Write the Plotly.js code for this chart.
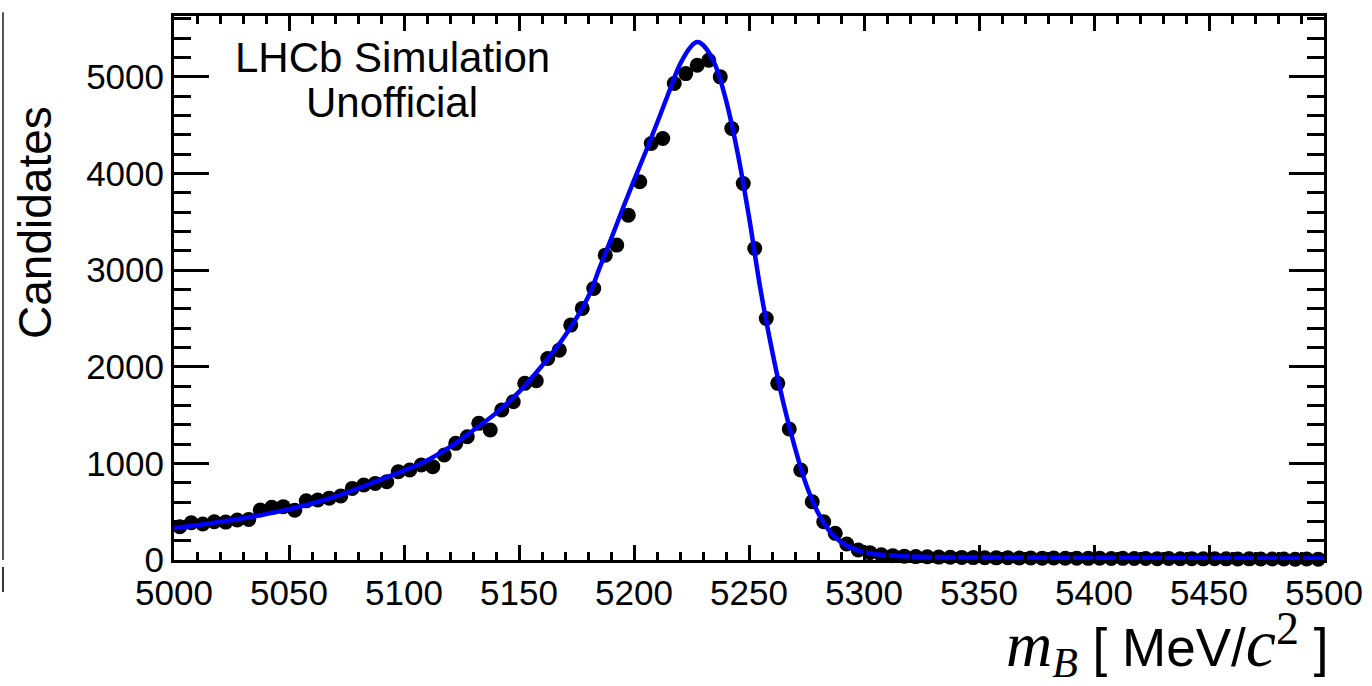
<!DOCTYPE html>
<html>
<head>
<meta charset="utf-8">
<script src="https://cdn.plot.ly/plotly-3.0.1.min.js"></script>
<style>html,body{margin:0;padding:0;background:#fff;}#chart{width:1372px;height:686px;}</style>
</head>
<body>
<div id="chart"></div>
<script>
// Bin centres (MeV/c^2), 5 MeV bins
const binCenters = [
  5002.5,5007.5,5012.5,5017.5,5022.5,5027.5,5032.5,5037.5,5042.5,5047.5,
  5052.5,5057.5,5062.5,5067.5,5072.5,5077.5,5082.5,5087.5,5092.5,5097.5,
  5102.5,5107.5,5112.5,5117.5,5122.5,5127.5,5132.5,5137.5,5142.5,5147.5,
  5152.5,5157.5,5162.5,5167.5,5172.5,5177.5,5182.5,5187.5,5192.5,5197.5,
  5202.5,5207.5,5212.5,5217.5,5222.5,5227.5,5232.5,5237.5,5242.5,5247.5,
  5252.5,5257.5,5262.5,5267.5,5272.5,5277.5,5282.5,5287.5,5292.5,5297.5,
  5302.5,5307.5,5312.5,5317.5,5322.5,5327.5,5332.5,5337.5,5342.5,5347.5,
  5352.5,5357.5,5362.5,5367.5,5372.5,5377.5,5382.5,5387.5,5392.5,5397.5,
  5402.5,5407.5,5412.5,5417.5,5422.5,5427.5,5432.5,5437.5,5442.5,5447.5,
  5452.5,5457.5,5462.5,5467.5,5472.5,5477.5,5482.5,5487.5,5492.5,5497.5
];
// Candidates per bin
const candidates = [
  345,386,372,396,392,414,420,517,545,552,
  515,612,621,640,662,741,776,793,810,914,
  931,983,966,1086,1207,1276,1414,1345,1552,1638,
  1828,1855,2086,2172,2431,2604,2810,3155,3259,3569,
  3914,4310,4362,4931,5034,5121,5172,5000,4466,3897,
  3224,2500,1828,1355,931,603,396,276,165,103,
  76,55,45,40,35,33,30,28,27,25,
  24,22,23,20,21,19,20,18,19,17,
  18,16,17,15,16,14,15,13,14,12,
  13,12,11,12,10,11,10,9,10,9
];
// Fit curve
const fitX = [5000,5010,5020,5030,5040,5050,5060,5070,5080,5090,5100,5110,5120,5130,5140,5150,5160,5170,5180,5185,5190,5195,5200,5205,5210,5215,5220,5225,5227.5,5230,5235,5240,5245,5250,5255,5260,5265,5270,5275,5280,5285,5290,5295,5300,5305,5310,5320,5340,5400,5500];
const fitY = [328,360,395,432,475,525,585,655,740,835,925,1030,1170,1340,1520,1740,2010,2320,2720,3020,3320,3630,3930,4220,4520,4830,5130,5320,5360,5330,5140,4760,4220,3550,2800,2170,1620,1160,770,490,300,185,120,82,60,48,36,28,22,15];

const xTicks = [5000,5050,5100,5150,5200,5250,5300,5350,5400,5450,5500];
const yTicks = [0,1000,2000,3000,4000,5000];

const SANS = 'Liberation Sans, Arial, Helvetica, sans-serif';
const SERIF = 'Liberation Serif';
const serifIt = (t, px) => '<i><span style="font-family:' + SERIF + ';font-size:' + px + 'px">' + t + '</span></i>';
const serifUp = (t, px) => '<span style="font-family:' + SERIF + ';font-size:' + px + 'px">' + t + '</span>';

const traces = [
  {
    x: binCenters, y: candidates, type: 'scatter', mode: 'markers',
    marker: {color: '#000', size: 15},
    cliponaxis: false, hoverinfo: 'skip'
  },
  {
    x: fitX, y: fitY, type: 'scatter', mode: 'lines',
    line: {color: '#0000ff', width: 4.5, shape: 'spline', smoothing: 1},
    cliponaxis: false, hoverinfo: 'skip'
  }
];

const layout = {
  width: 1372, height: 686,
  margin: {l: 174, r: 48, t: 16, b: 126},
  paper_bgcolor: '#fff', plot_bgcolor: '#fff',
  showlegend: false,
  font: {family: SANS, color: '#000'},
  xaxis: {
    range: [5000, 5500], tickvals: xTicks, ticktext: xTicks.map(String),
    ticks: 'inside', ticklen: 15, tickwidth: 3, tickcolor: '#000',
    minor: {dtick: 10, tick0: 5000, ticks: 'inside', ticklen: 8, tickwidth: 3, tickcolor: '#000', showgrid: false},
    showline: true, linewidth: 3, linecolor: '#000', mirror: 'allticks',
    showgrid: false, zeroline: false,
    tickfont: {size: 35, family: SANS, color: '#000'}
  },
  yaxis: {
    range: [0, 5630], tickvals: yTicks, ticktext: yTicks.map(String),
    ticks: 'inside', ticklen: 35, tickwidth: 3, tickcolor: '#000',
    minor: {dtick: 200, tick0: 0, ticks: 'inside', ticklen: 17, tickwidth: 3, tickcolor: '#000', showgrid: false},
    showline: true, linewidth: 3, linecolor: '#000', mirror: 'allticks',
    showgrid: false, zeroline: false,
    tickfont: {size: 35, family: SANS, color: '#000'}
  },
  annotations: [
    {text: 'LHCb Simulation', xref: 'paper', yref: 'paper', x: 0.1896, y: 0.9228,
     xanchor: 'center', yanchor: 'middle', showarrow: false, font: {size: 42, family: SANS, color: '#000'}},
    {text: 'Unofficial', xref: 'paper', yref: 'paper', x: 0.1896, y: 0.8401,
     xanchor: 'center', yanchor: 'middle', showarrow: false, font: {size: 42, family: SANS, color: '#000'}},
    {text: 'Candidates', xref: 'paper', yref: 'paper', x: -0.1209, y: 0.6213, textangle: -90,
     xanchor: 'center', yanchor: 'middle', showarrow: false, font: {size: 46, family: SANS, color: '#000'}},
    {text: serifIt('m', 64) + '<sub>' + serifIt('B', 42) + '</sub> [ MeV/' + serifIt('c', 68) + '<sup>' + serifUp('2', 46) + '</sup> ]',
     xref: 'paper', yref: 'paper', x: 1.0052, y: -0.2345,
     xanchor: 'right', yanchor: 'bottom', showarrow: false, font: {size: 53, family: SANS, color: '#000'}}
  ],
  shapes: [
    {type: 'line', xref: 'paper', yref: 'paper', x0: -0.1487, x1: -0.1487, y0: 0, y1: 1.007,
     line: {color: '#555', width: 2}},
    {type: 'line', xref: 'paper', yref: 'paper', x0: -0.1487, x1: -0.1487, y0: -0.0129, y1: -0.0588,
     line: {color: '#333', width: 2}}
  ]
};

Plotly.newPlot('chart', traces, layout, {displayModeBar: false, staticPlot: true});
</script>
</body>
</html>
